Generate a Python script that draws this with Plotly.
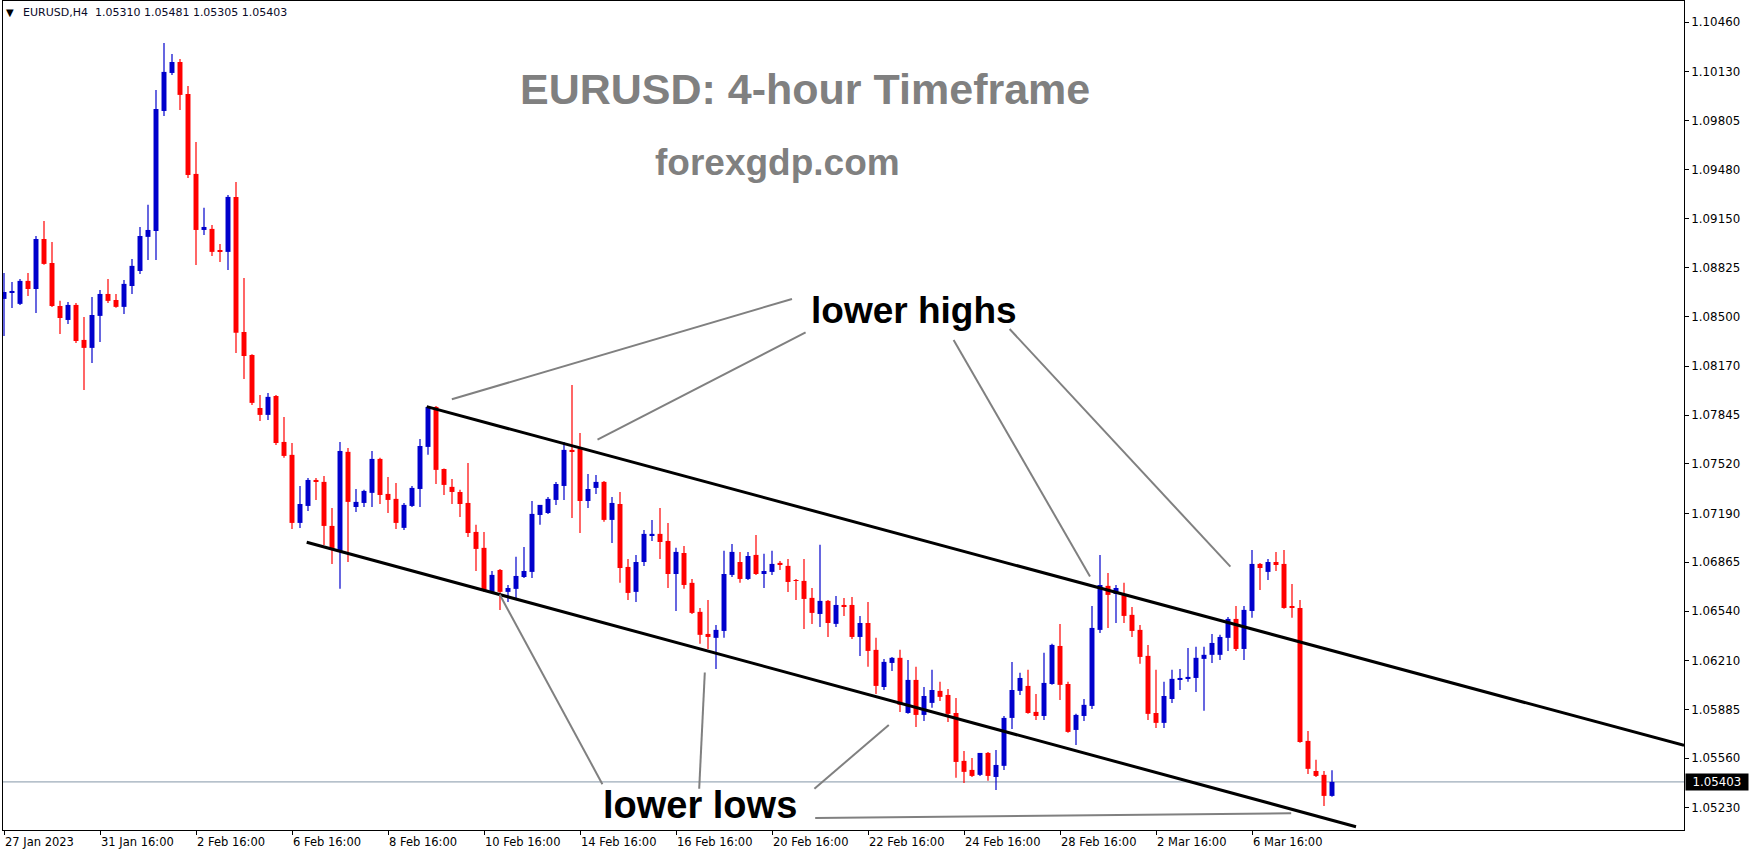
import plotly.graph_objects as go

# ---------------- data (EURUSD H4) ----------------
opens = [1.08618,1.08658,1.08585,1.08738,1.08684,1.09017,1.08857,1.08571,1.08478,1.08578,
         1.08345,1.08292,1.08505,1.08651,1.08611,1.08565,1.08704,1.08804,1.09031,1.09070,
         1.09869,1.10122,1.10195,1.09982,1.09450,1.09077,1.09084,1.08937,1.08931,1.09297,
         1.08398,1.08245,1.07892,1.07846,1.07972,1.07666,1.07580,1.07127,1.07240,1.07413,
         1.07400,1.07107,1.06941,1.07600,1.07233,1.07260,1.07327,1.07553,1.07320,1.07287,
         1.07094,1.07240,1.07353,1.07633,1.07899,1.07486,1.07367,1.07333,1.07260,1.07067,
         1.06961,1.06668,1.06814,1.06668,1.06688,1.06767,1.06801,1.07180,1.07193,1.07280,
         1.07373,1.07613,1.07619,1.07273,1.07360,1.07400,1.07147,1.07253,1.06834,1.06668,
         1.06867,1.07040,1.07054,1.07007,1.06787,1.06927,1.06728,1.06535,1.06388,1.06362,
         1.06408,1.06781,1.06867,1.06754,1.06914,1.06787,1.06801,1.06861,1.06841,1.06747,
         1.06741,1.06628,1.06521,1.06608,1.06455,1.06581,1.06581,1.06368,1.06461,1.06282,
         1.06035,1.06195,1.06229,1.05862,1.06082,1.05849,1.05929,1.06009,1.05982,1.05862,
         1.05543,1.05483,1.05450,1.05596,1.05436,1.05510,1.05829,1.06009,1.06042,1.05869,
         1.05842,1.06055,1.06308,1.06055,1.05749,1.05842,1.05909,1.06415,1.06708,1.06654,
         1.06648,1.06515,1.06415,1.06242,1.05862,1.05796,1.05955,1.06082,1.06089,1.06095,
         1.06222,1.06249,1.06249,1.06362,1.06488,1.06288,1.06541,1.06854,1.06801,1.06867,
         1.06854,1.06568,1.06561,1.05676,1.05476,1.05450,1.05310]
highs = [1.08791,1.08731,1.08751,1.08791,1.09037,1.09137,1.08997,1.08605,1.08598,1.08591,
         1.08498,1.08631,1.08678,1.08751,1.08651,1.08744,1.08884,1.09097,1.09244,1.10009,
         1.10322,1.10249,1.10215,1.10036,1.09663,1.09224,1.09110,1.08984,1.09310,1.09397,
         1.08758,1.08250,1.07979,1.07992,1.07979,1.07832,1.07659,1.07373,1.07426,1.07426,
         1.07440,1.07227,1.07666,1.07626,1.07353,1.07347,1.07606,1.07560,1.07433,1.07393,
         1.07260,1.07373,1.07686,1.07905,1.07906,1.07490,1.07420,1.07347,1.07526,1.07114,
         1.07067,1.06807,1.06820,1.06714,1.06901,1.06967,1.07273,1.07247,1.07300,1.07400,
         1.07666,1.08045,1.07726,1.07453,1.07446,1.07406,1.07300,1.07333,1.06887,1.06914,
         1.07080,1.07147,1.07227,1.07127,1.06961,1.06974,1.06754,1.06561,1.06614,1.06448,
         1.06941,1.06987,1.06934,1.06934,1.07047,1.06921,1.06941,1.06874,1.06887,1.06754,
         1.06887,1.06694,1.06981,1.06614,1.06641,1.06628,1.06634,1.06508,1.06601,1.06362,
         1.06222,1.06235,1.06282,1.06215,1.06169,1.06035,1.06149,1.06069,1.06022,1.05962,
         1.05609,1.05563,1.05596,1.05603,1.05616,1.05842,1.06202,1.06129,1.06149,1.05989,
         1.06262,1.06322,1.06455,1.06069,1.05856,1.05955,1.06574,1.06914,1.06794,1.06714,
         1.06728,1.06568,1.06448,1.06315,1.06149,1.06069,1.06149,1.06155,1.06295,1.06302,
         1.06302,1.06388,1.06382,1.06501,1.06574,1.06574,1.06947,1.06861,1.06887,1.06934,
         1.06947,1.06721,1.06614,1.05742,1.05550,1.05476,1.05481]
lows = [1.08372,1.08558,1.08578,1.08638,1.08525,1.08845,1.08565,1.08385,1.08451,1.08325,
        1.08012,1.08192,1.08332,1.08591,1.08560,1.08518,1.08651,1.08784,1.08877,1.08877,
        1.09836,1.10109,1.09876,1.09423,1.08844,1.09044,1.08904,1.08864,1.08811,1.08258,
        1.08085,1.07912,1.07806,1.07812,1.07646,1.07560,1.07087,1.07094,1.07207,1.07280,
        1.06980,1.06854,1.06688,1.06867,1.07200,1.07233,1.07233,1.07253,1.07193,1.07087,
        1.07080,1.07233,1.07233,1.07580,1.07386,1.07313,1.07253,1.07167,1.07034,1.06807,
        1.06668,1.06661,1.06548,1.06601,1.06628,1.06761,1.06761,1.07114,1.07187,1.07247,
        1.07280,1.07160,1.07060,1.07227,1.07320,1.07134,1.06994,1.06728,1.06614,1.06601,
        1.06841,1.07007,1.06887,1.06694,1.06541,1.06688,1.06521,1.06322,1.06288,1.06155,
        1.06362,1.06767,1.06728,1.06747,1.06781,1.06694,1.06781,1.06814,1.06668,1.06614,
        1.06421,1.06455,1.06435,1.06368,1.06435,1.06508,1.06355,1.06242,1.06169,1.05989,
        1.06015,1.06142,1.05869,1.05856,1.05769,1.05809,1.05896,1.05942,1.05802,1.05430,
        1.05396,1.05436,1.05443,1.05410,1.05350,1.05483,1.05756,1.05982,1.05856,1.05816,
        1.05816,1.06049,1.05949,1.05730,1.05649,1.05809,1.05889,1.06395,1.06428,1.06461,
        1.06461,1.06368,1.06189,1.05816,1.05762,1.05762,1.05929,1.06015,1.06069,1.06002,
        1.05876,1.06195,1.06215,1.06275,1.06275,1.06215,1.06495,1.06681,1.06747,1.06807,
        1.06555,1.06495,1.05663,1.05456,1.05436,1.05243,1.05305]
closes = [1.08664,1.08671,1.08738,1.08684,1.09017,1.08851,1.08571,1.08491,1.08578,1.08338,
          1.08292,1.08511,1.08651,1.08605,1.08565,1.08718,1.08838,1.09037,1.09077,1.09882,
          1.10129,1.10195,1.09976,1.09443,1.09077,1.09097,1.08931,1.08931,1.09297,1.08392,
          1.08238,1.07926,1.07846,1.07966,1.07659,1.07573,1.07127,1.07253,1.07413,1.07400,
          1.07107,1.06954,1.07606,1.07267,1.07267,1.07340,1.07553,1.07313,1.07280,1.07127,
          1.07247,1.07360,1.07639,1.07899,1.07480,1.07380,1.07333,1.07253,1.07060,1.06954,
          1.06681,1.06781,1.06668,1.06694,1.06774,1.06807,1.07187,1.07247,1.07287,1.07386,
          1.07613,1.07600,1.07273,1.07353,1.07400,1.07147,1.07260,1.06827,1.06661,1.06867,
          1.07054,1.07054,1.07000,1.06787,1.06934,1.06714,1.06528,1.06382,1.06368,1.06415,
          1.06787,1.06934,1.06754,1.06907,1.06787,1.06807,1.06854,1.06847,1.06734,1.06741,
          1.06621,1.06528,1.06608,1.06461,1.06581,1.06568,1.06368,1.06461,1.06275,1.06042,
          1.06202,1.06229,1.05916,1.06082,1.05849,1.05975,1.06015,1.05969,1.05856,1.05536,
          1.05470,1.05443,1.05596,1.05443,1.05516,1.05829,1.06015,1.06095,1.05862,1.05842,
          1.06062,1.06315,1.06049,1.05736,1.05849,1.05916,1.06428,1.06714,1.06648,1.06694,
          1.06508,1.06408,1.06235,1.05856,1.05796,1.05975,1.06089,1.06095,1.06102,1.06229,
          1.06249,1.06328,1.06368,1.06488,1.06288,1.06548,1.06854,1.06827,1.06867,1.06847,
          1.06561,1.06561,1.05669,1.05490,1.05443,1.05310,1.05403]

x_tick_labels = ["27 Jan 2023", "31 Jan 16:00", "2 Feb 16:00", "6 Feb 16:00", "8 Feb 16:00",
                 "10 Feb 16:00", "14 Feb 16:00", "16 Feb 16:00", "20 Feb 16:00", "22 Feb 16:00",
                 "24 Feb 16:00", "28 Feb 16:00", "2 Mar 16:00", "6 Mar 16:00"]
bars_per_label = 12
y_tick_values = [1.10460, 1.10130, 1.09805, 1.09480, 1.09150, 1.08825, 1.08500, 1.08170,
                 1.07845, 1.07520, 1.07190, 1.06865, 1.06540, 1.06210, 1.05885, 1.05560, 1.05230]
last_price = 1.05403
symbol_header = "EURUSD,H4  1.05310 1.05481 1.05305 1.05403"

# trend-channel lines (bar index, price)
upper_channel = [(52.84, 1.07901), (210.0, 1.05646)]
lower_channel = [(37.84, 1.06998), (169.0, 1.05105)]
# pointer lines from the labels (bar index, price)
pointer_lines = [
    [(98.5, 1.08618), (55.98, 1.07950)],
    [(100.2, 1.08395), (74.19, 1.07682)],
    [(118.7, 1.08345), (135.75, 1.06771)],
    [(125.7, 1.08418), (153.3, 1.06836)],
    [(61.96, 1.06650), (74.8, 1.05388)],
    [(87.6, 1.06131), (86.9, 1.05358)],
    [(110.6, 1.05782), (101.3, 1.05358)],
    [(101.4, 1.05163), (160.9, 1.05194)],
]

BULL = "#0000CC"
BEAR = "#FF0000"

n = len(opens)
idx = list(range(n))
colors = [BULL if c >= o else BEAR for o, c in zip(opens, closes)]
body_lo = [min(o, c) for o, c in zip(opens, closes)]
body_h = [max(abs(c - o), 0.000018) for o, c in zip(opens, closes)]

fig = go.Figure()

# wicks
for col in (BULL, BEAR):
    wx, wy = [], []
    for i in idx:
        if colors[i] == col:
            wx += [i, i, None]
            wy += [lows[i], highs[i], None]
    fig.add_trace(go.Scatter(x=wx, y=wy, mode="lines", line=dict(color=col, width=1.2),
                             hoverinfo="skip", showlegend=False))

# bodies
fig.add_trace(go.Bar(x=idx, y=body_h, base=body_lo, width=0.62,
                     marker=dict(color=colors, line=dict(width=0)),
                     hoverinfo="skip", showlegend=False))

shapes = []
for (x0, y0), (x1, y1) in (upper_channel, lower_channel):
    shapes.append(dict(type="line", xref="x", yref="y", x0=x0, y0=y0, x1=x1, y1=y1,
                       line=dict(color="black", width=3), layer="above"))
for (x0, y0), (x1, y1) in pointer_lines:
    shapes.append(dict(type="line", xref="x", yref="y", x0=x0, y0=y0, x1=x1, y1=y1,
                       line=dict(color="#808080", width=2), layer="above"))
shapes.append(dict(type="line", xref="paper", yref="y", x0=0, x1=1, y0=last_price, y1=last_price,
                   line=dict(color="#8496a8", width=1), layer="below"))

annotations = []
for k, lab in enumerate(x_tick_labels):
    annotations.append(dict(x=k * bars_per_label, y=0, xref="x", yref="paper", text=lab,
                            showarrow=False, xanchor="left", yanchor="top", yshift=-3, xshift=-1,
                            font=dict(family="DejaVu Sans", size=11.5, color="black")))
annotations += [
    dict(x=0.00434, y=0.9866, xref="paper", yref="paper", text="▼", showarrow=False,
         xanchor="center", yanchor="middle", font=dict(family="DejaVu Sans", size=10, color="black")),
    dict(x=0.0105, y=0.9866, xref="paper", yref="paper", text=symbol_header, showarrow=False,
         xanchor="left", yanchor="middle", font=dict(family="DejaVu Sans", size=11, color="#0a0a28")),
    dict(x=100.1, y=1.10016, xref="x", yref="y", text="EURUSD: 4-hour Timeframe", showarrow=False,
         xanchor="center", yanchor="middle",
         font=dict(family="Liberation Sans", size=43, color="#808080", weight="bold")),
    dict(x=96.7, y=1.09523, xref="x", yref="y", text="forexgdp.com", showarrow=False,
         xanchor="center", yanchor="middle",
         font=dict(family="Liberation Sans", size=37, color="#808080", weight="bold")),
    dict(x=113.8, y=1.08544, xref="x", yref="y", text="lower highs", showarrow=False,
         xanchor="center", yanchor="middle",
         font=dict(family="Liberation Sans", size=37, color="black", weight="bold")),
    dict(x=87.0, y=1.05249, xref="x", yref="y", text="lower lows", showarrow=False,
         xanchor="center", yanchor="middle",
         font=dict(family="Liberation Sans", size=38, color="black", weight="bold")),
    dict(x=1, y=last_price, xref="paper", yref="y", text=f"{last_price:.5f}", showarrow=False,
         xanchor="left", yanchor="middle", xshift=1, width=60, height=14, align="center",
         bgcolor="black", font=dict(family="DejaVu Sans", size=11.8, color="white")),
]

fig.update_layout(
    template="none",
    width=1749, height=850,
    margin=dict(l=3, r=65, t=1, b=20, pad=0),
    paper_bgcolor="white", plot_bgcolor="white",
    showlegend=False, hovermode=False,
    shapes=shapes, annotations=annotations,
    xaxis=dict(range=[-0.125, 210], showgrid=False, zeroline=False, showline=True, mirror=True,
               linecolor="black", linewidth=1, ticks="outside", ticklen=4, tickcolor="black",
               tickvals=[k * bars_per_label for k in range(len(x_tick_labels))],
               showticklabels=False, automargin=False, fixedrange=True),
    yaxis=dict(range=[1.05083, 1.10601], side="right", showgrid=False, zeroline=False,
               showline=True, mirror=True, linecolor="black", linewidth=1,
               ticks="outside", ticklen=4, tickcolor="black", tickvals=y_tick_values,
               tickformat=".5f", tickfont=dict(family="DejaVu Sans", size=11.8, color="black"),
               automargin=False, fixedrange=True),
)

fig.write_html("out.html", config={"displayModeBar": False},
               post_script="document.body.style.margin='0';document.body.style.overflow='hidden';")
